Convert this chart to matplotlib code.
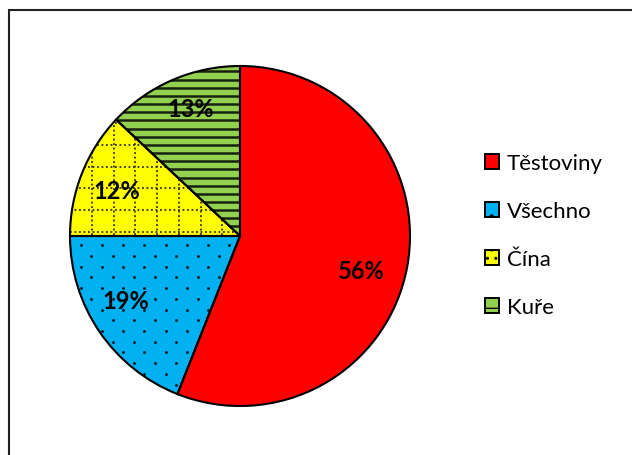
import numpy as np
import matplotlib
matplotlib.use("Agg")
import matplotlib.pyplot as plt
from matplotlib.patches import Patch, Rectangle
import copy

categories = ["Těstoviny", "Všechno", "Čína", "Kuře"]
values = [56, 19, 12, 13]
colors = ["#FF0000", "#00B0F0", "#FFFF00", "#92D050"]

plt.rcParams['font.family'] = ['Lato', 'DejaVu Sans']

W, H = 632, 455
fig = plt.figure(figsize=(W / 100, H / 100), dpi=100)
cx, cy, r = 240, 236, 170
ax = fig.add_axes([(cx - r) / W, (H - cy - r) / H, 2 * r / W, 2 * r / H])

wedges, texts, autotexts = ax.pie(
    values, colors=colors, startangle=90, counterclock=False, radius=1,
    wedgeprops=dict(edgecolor='none', linewidth=0),
    autopct='%1.0f%%', pctdistance=0.78,
    textprops=dict(fontsize=17, fontweight='bold', color='black'))
ax.set_xlim(-1, 1)
ax.set_ylim(-1, 1)
ax.set_aspect('equal')
ax.axis('off')

# label placement (Excel "best fit" layout), in axes data units
label_layout = [(0.715, -0.209), (-0.674, -0.388), (-0.726, 0.262), (-0.291, 0.746)]
for t, (lx, ly) in zip(autotexts, label_layout):
    t.set_position((lx, ly))
    t.set_zorder(5)

# textures
# Všechno: staggered dots
w = wedges[1]
xs, ys = [], []
for i, yy in enumerate(np.arange(-1.0, 1.0, 0.063)):
    off = 0.0625 if i % 2 else 0.0
    for xx in np.arange(-1.0 + off, 1.0, 0.125):
        xs.append(xx); ys.append(yy)
sc = ax.scatter(xs, ys, s=4.5, color='#0d2230', zorder=2, linewidths=0)
sc.set_clip_path(w)

# Čína: dotted grid
w = wedges[2]
for g in np.arange(-1.0, 1.0, 0.128):
    for ln in (ax.plot([g, g], [-1, 1], color='#202020', lw=1.2,
                       linestyle=(0, (1.1, 1.6)), zorder=2)
               + ax.plot([-1, 1], [g, g], color='#202020', lw=1.2,
                         linestyle=(0, (1.1, 1.6)), zorder=2)):
        ln.set_clip_path(w)

# Kuře: horizontal stripes
w = wedges[3]
for g in np.arange(-1.0, 1.0, 0.048):
    ln, = ax.plot([-1, 1], [g, g], color='#18200e', lw=1.8, zorder=2)
    ln.set_clip_path(w)

# outlines on top
for w in wedges:
    o = copy.copy(w)
    o.set_facecolor('none')
    o.set_edgecolor('black')
    o.set_linewidth(1.5)
    o.set_zorder(3)
    ax.add_patch(o)

handles = [
    Patch(facecolor=colors[0], edgecolor='black', linewidth=1.4),
    Patch(facecolor=colors[1], edgecolor='black', linewidth=1.4, hatch='.'),
    Patch(facecolor=colors[2], edgecolor='black', linewidth=1.4, hatch='..'),
    Patch(facecolor=colors[3], edgecolor='black', linewidth=1.4, hatch='-'),
]
fig.legend(handles, categories, loc='center left',
           bbox_to_anchor=(485 / W, 1 - 235.5 / H), frameon=False,
           fontsize=16, handlelength=0.63, handleheight=0.63,
           handletextpad=0.35, labelspacing=1.26, borderpad=0,
           borderaxespad=0)

fig.add_artist(Rectangle((9 / W, -0.1), 1.2, 1.1 - 10 / H,
                         transform=fig.transFigure, fill=False,
                         edgecolor='#202020', linewidth=1.5))

fig.savefig("out.png", dpi=100)
